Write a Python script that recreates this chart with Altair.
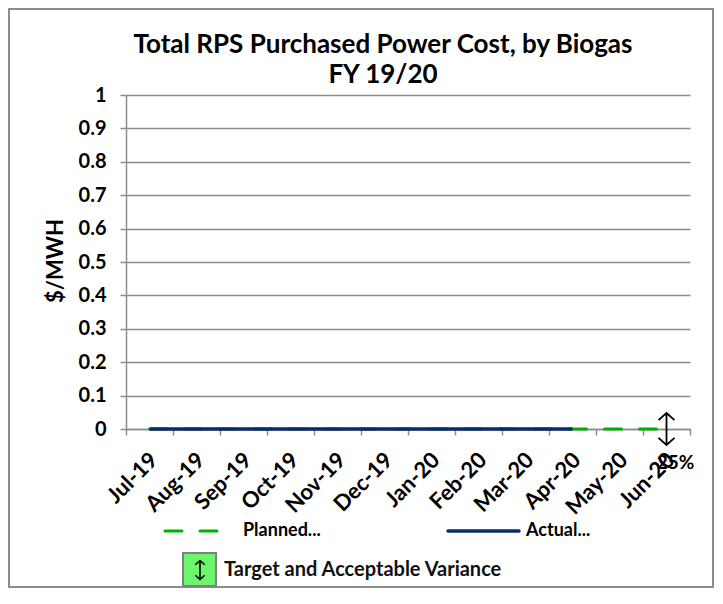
import altair as alt
import pandas as pd

# ---- data ----
months = ["Jul-19", "Aug-19", "Sep-19", "Oct-19", "Nov-19", "Dec-19",
          "Jan-20", "Feb-20", "Mar-20", "Apr-20", "May-20", "Jun-20"]
planned = [0, 0, 0, 0, 0, 0, 0, 0, 0, 0, 0, 0]
actual = [0, 0, 0, 0, 0, 0, 0, 0, 0, 0]          # Jul-19 .. Apr-20
target_month = ["Jun-20"]
target_value = [0]
variance_label = ["25%"]
y_ticks = [0, 0.1, 0.2, 0.3, 0.4, 0.5, 0.6, 0.7, 0.8, 0.9, 1]

title_lines = ["Total RPS Purchased Power Cost, by Biogas", "FY 19/20"]
y_title = "$/MWH"
legend_planned = "Planned..."
legend_actual = "Actual..."
legend_target = "Target and Acceptable Variance"

# ---- layout ----
W, H = 564, 334
PAD_L, PAD_T = 118, 87
TOTAL_W, TOTAL_H = 706, 580
FONT = "Lato"
GREEN = "#00B000"
NAVY = "#0B2A6A"
GRID = "#8C8C8C"

planned_df = pd.DataFrame({"month": months, "value": planned})
actual_df = pd.DataFrame({"month": months[:len(actual)], "value": actual})
target_df = pd.DataFrame({"month": target_month, "value": target_value,
                          "label": variance_label})
one = alt.Data(values=[{}])

x_axis = alt.Axis(title=None, labelAngle=-45, labelAlign="right", labelBaseline="middle",
                  labelFont=FONT, labelFontSize=22, labelFontWeight="bold", labelColor="black",
                  labelPadding=21, labelOffset=4, tickBand="extent", tickSize=6, tickColor=GRID,
                  tickWidth=1.5, domainColor=GRID, domainWidth=1.5, grid=False, labelOverlap=False)
y_axis = alt.Axis(title=None, values=y_ticks, format=".1~f", labelFont=FONT, labelFontSize=20,
                  labelFontWeight="bold", labelColor="black", labelPadding=14,
                  tickSize=6, tickColor=GRID, tickWidth=1.5, domainColor=GRID, domainWidth=1.5,
                  grid=True, gridColor=GRID, gridWidth=1.5)

x_enc = alt.X("month:N", sort=months, bandPosition=0.5,
              scale=alt.Scale(type="band", domain=months, paddingInner=0, paddingOuter=0),
              axis=x_axis)
y_enc = alt.Y("value:Q", scale=alt.Scale(domain=[0, 1], nice=False), axis=y_axis)

border = alt.Chart(one).mark_rect(fill=None, stroke="#8C8C8C", strokeWidth=2).encode(
    x=alt.value(-PAD_L + 1), x2=alt.value(TOTAL_W - PAD_L - 1),
    y=alt.value(-PAD_T + 1), y2=alt.value(TOTAL_H - PAD_T - 1))

planned_line = alt.Chart(planned_df).mark_line(
    color=GREEN, strokeWidth=3, strokeDash=[17, 18], strokeCap="round").encode(x=x_enc, y=y_enc)
actual_line = alt.Chart(actual_df).mark_line(
    color=NAVY, strokeWidth=3.5).encode(x=x_enc, y=y_enc)

arrow_path = "M0,-1L0,1M-0.5,-0.55L0,-1L0.5,-0.55M-0.5,0.55L0,1L0.5,0.55"
target_arrow = alt.Chart(target_df).mark_point(
    shape=arrow_path, size=1024, filled=False, stroke="black", strokeWidth=1.8, opacity=1
).encode(x=x_enc, y=y_enc)
target_text = alt.Chart(target_df).mark_text(
    font=FONT, fontSize=19, fontWeight="bold", color="black", dx=9, dy=34
).encode(x=x_enc, y=y_enc, text="label:N")

title1 = alt.Chart(one).mark_text(font=FONT, fontSize=26, fontWeight="bold", color="black").encode(
    x=alt.value(257), y=alt.value(-50), text=alt.value(title_lines[0]))
title2 = alt.Chart(one).mark_text(font=FONT, fontSize=26, fontWeight="bold", color="black").encode(
    x=alt.value(257), y=alt.value(-20), text=alt.value(title_lines[1]))
ytitle = alt.Chart(one).mark_text(font=FONT, fontSize=22, fontWeight="bold", color="black",
                                  angle=270).encode(
    x=alt.value(-70), y=alt.value(166), text=alt.value(y_title))

LEG1_Y = 436
LEG2_Y = 475
leg_planned = alt.Chart(one).mark_rule(color=GREEN, strokeWidth=3, strokeDash=[17, 18],
                                       strokeCap="round").encode(
    x=alt.value(39), x2=alt.value(92), y=alt.value(LEG1_Y))
leg_planned_t = alt.Chart(one).mark_text(font=FONT, fontSize=18, fontWeight="bold", color="black",
                                         align="left").encode(
    x=alt.value(117), y=alt.value(LEG1_Y), text=alt.value(legend_planned))
leg_actual = alt.Chart(one).mark_rule(color=NAVY, strokeWidth=3.5, strokeCap="round").encode(
    x=alt.value(322), x2=alt.value(393), y=alt.value(LEG1_Y))
leg_actual_t = alt.Chart(one).mark_text(font=FONT, fontSize=18, fontWeight="bold", color="black",
                                        align="left").encode(
    x=alt.value(400), y=alt.value(LEG1_Y), text=alt.value(legend_actual))
leg_box = alt.Chart(one).mark_rect(fill="#6EF56E", stroke="#7F7F7F", strokeWidth=2).encode(
    x=alt.value(57), x2=alt.value(90), y=alt.value(LEG2_Y - 17), y2=alt.value(LEG2_Y + 16))
leg_arrow = alt.Chart(one).mark_point(shape=arrow_path, size=361, filled=False, stroke="black",
                                      strokeWidth=1.6, opacity=1).encode(
    x=alt.value(74), y=alt.value(LEG2_Y))
leg_target_t = alt.Chart(one).mark_text(font=FONT, fontSize=20, fontWeight="bold", color="#111111",
                                        align="left").encode(
    x=alt.value(98), y=alt.value(LEG2_Y), text=alt.value(legend_target))

chart = alt.layer(
    border, planned_line, actual_line, target_arrow, target_text,
    title1, title2, ytitle,
    leg_planned, leg_planned_t, leg_actual, leg_actual_t, leg_box, leg_arrow, leg_target_t
).properties(
    width=W, height=H,
    autosize=alt.AutoSizeParams(type="none"),
    padding={"left": PAD_L, "top": PAD_T, "right": TOTAL_W - PAD_L - W,
             "bottom": TOTAL_H - PAD_T - H},
    background="white",
).configure_view(stroke=None)

chart.save("out.html", embed_options={"renderer": "svg", "actions": False})
